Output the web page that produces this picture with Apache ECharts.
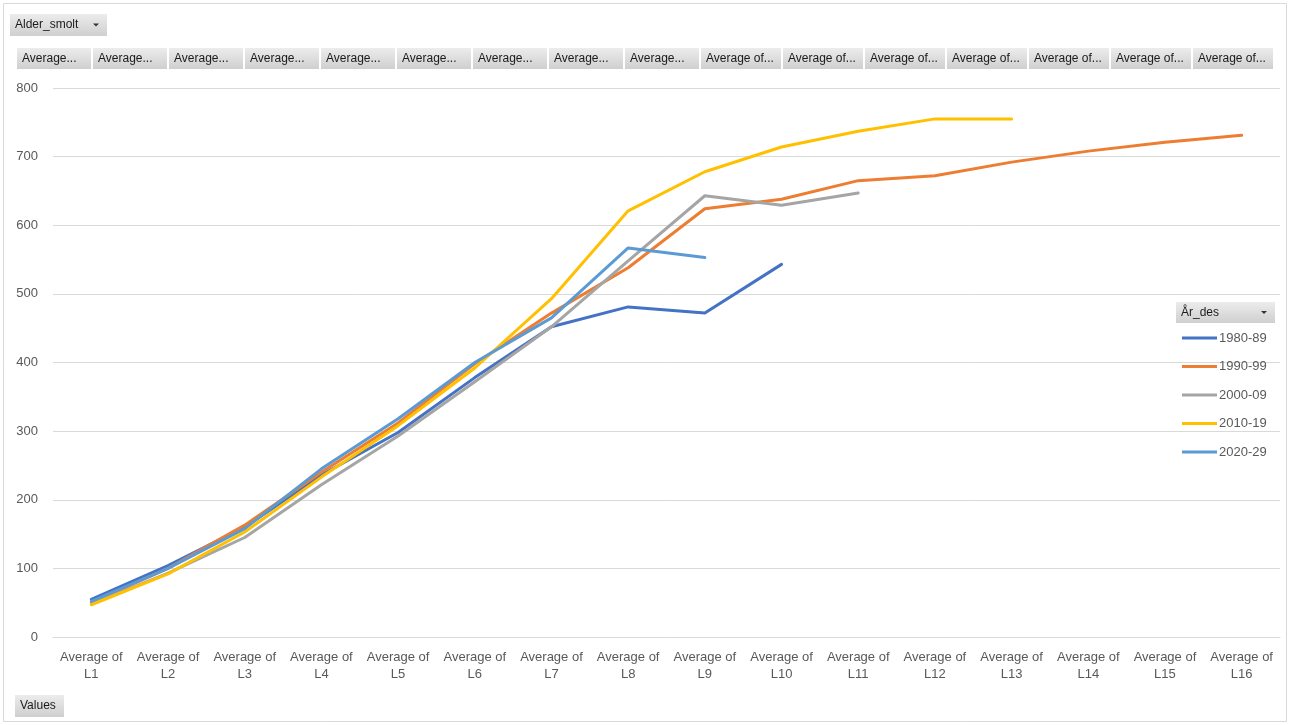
<!DOCTYPE html>
<html>
<head>
<meta charset="utf-8">
<title>Alder_smolt</title>
<script src="https://cdn.jsdelivr.net/npm/echarts@6/dist/echarts.min.js"></script>
<style>
  html, body { margin: 0; padding: 0; background: #fff; }
  #chart { width: 1290px; height: 725px; }
</style>
</head>
<body>
<div id="chart"></div>
<script>
// categories (L1..L16)
var categories = ['L1', 'L2', 'L3', 'L4', 'L5', 'L6', 'L7', 'L8', 'L9', 'L10', 'L11', 'L12', 'L13', 'L14', 'L15', 'L16'];
var seriesNames = ['1980-89', '1990-99', '2000-09', '2010-19', '2020-29'];

// average values per decade
var d1980 = [55, 104, 160, 236, 298, 378, 452, 481, 472, 543];
var d1990 = [50, 100, 163, 240, 312, 398, 472, 538, 624, 638, 665, 672, 692, 708, 721, 731];
var d2000 = [48, 93, 145, 222, 293, 372, 452, 548, 643, 629, 647];
var d2010 = [47, 92, 153, 233, 308, 392, 493, 621, 678, 714, 737, 755, 755];
var d2020 = [52, 100, 158, 245, 318, 400, 465, 567, 553];

var yTicks = [0, 100, 200, 300, 400, 500, 600, 700, 800];
var headerCount = 16;

var colors = ['#4472C4', '#ED7D31', '#A5A5A5', '#FFC000', '#5B9BD5'];
var allData = [d1980, d1990, d2000, d2010, d2020];

var chart = echarts.init(document.getElementById('chart'));

// excel-like grey buttons
function button(x, y, w, h, text, arrow) {
    var kids = [{
        type: 'rect',
        shape: {x: x, y: y, width: w, height: h},
        style: {
            fill: new echarts.graphic.LinearGradient(0, 0, 0, 1, [
                {offset: 0, color: '#ececec'},
                {offset: 1, color: '#cfcfcf'}
            ]),
            stroke: null
        }
    }, {
        type: 'text',
        x: x + 5, y: y + h / 2,
        style: {text: text, fill: '#1a1a1a', font: '12px "Liberation Sans", Arial', verticalAlign: 'middle'}
    }];
    if (arrow) {
        kids.push({
            type: 'polygon',
            shape: {points: [[x + w - 14, y + h / 2 - 1.5], [x + w - 8, y + h / 2 - 1.5], [x + w - 11, y + h / 2 + 1.5]]},
            style: {fill: '#333'}
        });
    }
    return kids;
}

var graphics = [{
    type: 'rect',
    shape: {x: 3.5, y: 3.5, width: 1283, height: 718},
    style: {fill: null, stroke: '#d9d9d9', lineWidth: 1},
    z: -1
}];
graphics = graphics.concat(button(10, 14, 97, 22, 'Alder_smolt', true));

// header row of field buttons
var hx = 17;
for (var i = 0; i < headerCount; i++) {
    var w = i < 9 ? 74 : 80;
    graphics = graphics.concat(button(hx, 48, w, 21, i < 9 ? 'Average...' : 'Average of...', false));
    hx += w + 2;
}
graphics = graphics.concat(button(15, 695, 49, 22, 'Values', false));
graphics = graphics.concat(button(1176, 302, 99, 21, 'År_des', true));

var series = seriesNames.map(function (name, k) {
    return {
        name: name,
        type: 'line',
        data: allData[k],
        symbol: 'none',
        lineStyle: {width: 3, color: colors[k], cap: 'round', join: 'round'},
        itemStyle: {color: colors[k]},
        connectNulls: false
    };
});

var option = {
    animation: false,
    color: colors,
    textStyle: {fontFamily: '"Liberation Sans", Arial, sans-serif'},
    graphic: graphics,
    grid: {left: 53, right: 10, top: 88, bottom: 88, containLabel: false},
    legend: {
        orient: 'vertical',
        left: 1177,
        top: 326,
        icon: 'rect',
        itemWidth: 35,
        itemHeight: 3,
        itemGap: 14.5,
        textStyle: {color: '#595959', fontSize: 13, lineHeight: 14, padding: [0, 0, 0, -3]},
        data: seriesNames
    },
    xAxis: {
        type: 'category',
        data: categories,
        boundaryGap: true,
        axisLine: {lineStyle: {color: '#d9d9d9'}},
        axisTick: {show: false},
        axisLabel: {
            color: '#595959',
            fontSize: 13,
            lineHeight: 17,
            margin: 12,
            interval: 0,
            formatter: function (v) { return 'Average of\n' + v; }
        }
    },
    yAxis: {
        type: 'value',
        min: yTicks[0],
        max: yTicks[yTicks.length - 1],
        interval: 100,
        axisLine: {show: false},
        axisTick: {show: false},
        axisLabel: {color: '#595959', fontSize: 13, margin: 15},
        splitLine: {lineStyle: {color: '#d9d9d9', width: 1}}
    },
    series: series
};

chart.setOption(option);
</script>
</body>
</html>
